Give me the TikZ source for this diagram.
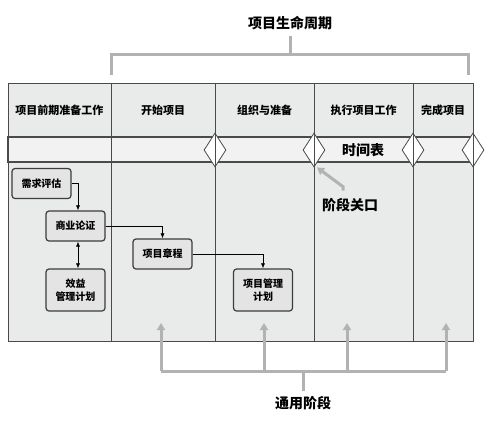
\documentclass[tikz,border=0pt]{standalone}
\usepackage{fontspec}
\setmainfont{Noto Sans CJK SC}
\usetikzlibrary{shapes.geometric,arrows.meta}
\definecolor{lane}{HTML}{E9EAEA}
\definecolor{band}{HTML}{F2F2F2}
\definecolor{frame}{HTML}{4A4A4A}
\definecolor{docfill}{HTML}{E4E4E4}
\definecolor{docline}{HTML}{3C3C3C}
\definecolor{bracket}{HTML}{B2B2B2}

\begin{document}
\begin{tikzpicture}[x=1pt, y=-1pt, >={Latex[length=5pt,width=4pt]},
        head/.style={font=\fontsize{11}{13}\selectfont\bfseries},
        big/.style={font=\fontsize{14}{16}\selectfont\bfseries},
        doc/.style={draw=docline, fill=docfill, rounded corners=3pt, line width=1.2pt,
            minimum width=59pt, minimum height=30pt, align=center,
            font=\fontsize{10}{13}\selectfont\bfseries},
        gate/.style={diamond, draw=frame, fill=white, line width=0.8pt,
            minimum width=22pt, minimum height=34pt, inner sep=0pt},
        gline/.style={draw=bracket, line width=3pt},
        gtip/.style={-{Triangle[length=7pt,width=8pt]}, bracket},
        flow/.style={->, line width=0.6pt}]
        \useasboundingbox (0,0) rectangle (496,424);

        % lanes and time band
        \fill[lane] (8,83) rectangle (473,341);
        \filldraw[fill=band, draw=frame, line width=1.2pt] (8,137) rectangle (473,162);

        \node[gate] (g1) at (215,150) {};
        \node[gate] (g2) at (314,150) {};
        \node[gate] (g3) at (413,150) {};
        \node[gate] (g4) at (473,150) {};

        \draw[frame, line width=0.8pt] (8,83) rectangle (473,341);
        \foreach \x in {111,215,314,413,473}
            \draw[frame, line width=0.8pt] (\x,83) -- (\x,341);

        \node[head] (prep) at (59.5,110) {项目前期准备工作};
        \node[head] (start) at (163,110) {开始项目};
        \node[head] (org) at (264.5,110) {组织与准备};
        \node[head] (exec) at (363.5,110) {执行项目工作};
        \node[head] (close) at (443,110) {完成项目};
        \node[big] (sched) at (363,150) {时间表};

        % documents
        \node[doc] (need) at (41.5,183.5) {需求评估};
        \node[doc] (case) at (75.5,226) {商业论证};
        \node[doc, minimum height=42pt] (benefit) at (75.5,290) {效益\\管理计划};
        \node[doc] (charter) at (162.5,254) {项目章程};
        \node[doc, minimum height=42pt] (plan) at (263,290) {项目管理\\计划};

        \draw[flow] (need.east) -| ([xshift=2.5pt]case.north);
        \draw[flow] (case.east) -| (charter.north);
        \draw[flow] (charter.east) -| (plan.north);
        \draw[flow, <->] ([xshift=2.5pt]case.south) -- ([xshift=2.5pt]benefit.north);

        % phase gate
        \node[big] (gatelbl) at (350,205) {阶段关口};
        \draw[gline, gtip] ([xshift=-7pt,yshift=4pt]gatelbl.north) -- ++(0,-4) -- ([xshift=3pt]g2.south);

        % life cycle
        \node[big] (life) at (290,23) {项目生命周期};
        \coordinate (lifehub) at (290,54);
        \draw[gline] (111,75) -- (111,54) -- (468,54) -- (468,75);
        \draw[gline, shorten >=3pt] (lifehub) -- (life.south);

        % generic phases
        \node[big] (common) at (303,403) {通用阶段};
        \coordinate (hub) at (303,371);
        \draw[gline] (161,371) -- (446,371);
        \draw[gline, shorten >=2pt] (hub) -- (common.north);
        \foreach \x in {161,264,347,446}
            \draw[gline, gtip] (\x,371) -- (\x,323);
\end{tikzpicture}
\end{document}
